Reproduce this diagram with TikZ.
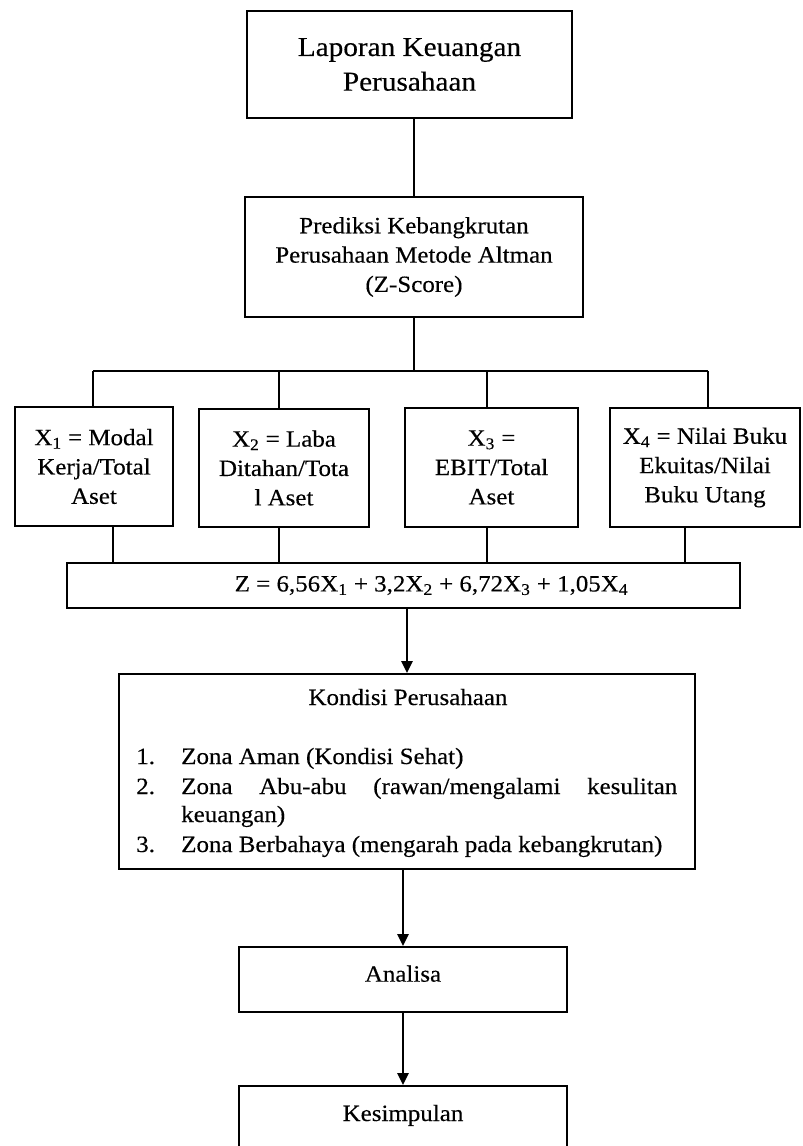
\documentclass[tikz,border=0pt]{standalone}
\usepackage{fontspec}
\setmainfont{Liberation Serif}[FakeStretch=1.07,FakeBold=0.3]
\usetikzlibrary{arrows.meta}
\tikzset{
  txt/.style={font=\fontsize{17.5}{22}\selectfont, inner sep=0pt},
  boxnode/.style={draw, line width=1.5pt, align=center, inner sep=2pt,
    font=\fontsize{17.5}{22}\selectfont},
  conn/.style={line width=1.3pt},
  arr/.style={line width=1.3pt, -{Triangle[length=9pt,width=8.5pt]}}
}
\begin{document}
\begin{tikzpicture}[x=0.75pt,y=-0.75pt]
\useasboundingbox (0,0) rectangle (803,1146);
\clip (0,0) rectangle (803,1146);
\fill[white] (0,0) rectangle (803,1146);

\node[boxnode, minimum width=243.75pt, minimum height=80.25pt,
  font=\fontsize{20.5}{26}\selectfont] (lap) at (409.5,64.5)
  {Laporan Keuangan\\Perusahaan};
\node[boxnode, minimum width=253.5pt, minimum height=90pt] (pred) at (414,257)
  {Prediksi Kebangkrutan\\Perusahaan Metode Altman\\(Z-Score)};

\node[boxnode, minimum width=118.5pt, minimum height=89.25pt] (x1) at (94,466.5)
  {X\textsubscript{1} = Modal\\Kerja/Total\\Aset};
\node[boxnode, minimum width=127.5pt, minimum height=88.5pt] (x2) at (284,468)
  {X\textsubscript{2} = Laba\\Ditahan/Tota\\l Aset};
\node[boxnode, minimum width=129.75pt, minimum height=89.25pt] (x3) at (491.5,467.5)
  {X\textsubscript{3} =\\EBIT/Total\\Aset};
\node[boxnode, minimum width=143pt, minimum height=89.25pt] (x4) at (705,467.5)
  {X\textsubscript{4} = Nilai Buku\\Ekuitas/Nilai\\Buku Utang};

\node[boxnode, minimum width=504.75pt, minimum height=33.75pt] (z) at (403.5,585.5)
  {\hspace*{42pt}Z = 6,56X\textsubscript{1} + 3,2X\textsubscript{2} + 6,72X\textsubscript{3} + 1,05X\textsubscript{4}};

\node[boxnode, minimum width=432pt, minimum height=146.25pt] (kond) at (407,771.5) {};
\node[txt, anchor=base] (kt) at (408,705) {Kondisi Perusahaan};
\node[txt, anchor=base west] (n1) at (136,764) {1.};
\node[txt, anchor=base west] (i1) at (181,764) {Zona Aman (Kondisi Sehat)};
\node[txt, anchor=base west] (n2) at (136,794) {2.};
\node[txt, anchor=base west] (i2) at (181,794)
  {\makebox[372pt][s]{Zona\hfil\ Abu-abu\hfil\ (rawan/mengalami\hfil\ kesulitan}};
\node[txt, anchor=base west] (i2b) at (181,822) {keuangan)};
\node[txt, anchor=base west] (n3) at (136,852) {3.};
\node[txt, anchor=base west] (i3) at (181,852) {Zona Berbahaya (mengarah pada kebangkrutan)};

\node[boxnode, minimum width=246pt, anchor=north, inner ysep=4pt,
  text height=22pt, text depth=18.75pt] (anal) at (403,946) {Analisa};
\node[boxnode, minimum width=246pt, anchor=north, inner ysep=4pt,
  text height=22.25pt, text depth=50pt] (kes) at (403,1085) {Kesimpulan};

% connectors
\coordinate (t1) at (93,371);
\coordinate (t2) at (279,371);
\coordinate (t3) at (487,371);
\coordinate (t4) at (708,371);
\coordinate (b1) at (113,0);
\coordinate (b2) at (279,0);
\coordinate (b3) at (487,0);
\coordinate (b4) at (685,0);

\draw[conn] (pred.north |- lap.south) -- (pred.north);
\draw[conn] (pred.south) -- (pred.south |- t1);
\draw[conn] (t1) -- (t4);
\draw[conn] (t1) -- (t1 |- x1.north);
\draw[conn] (t2) -- (t2 |- x2.north);
\draw[conn] (t3) -- (t3 |- x3.north);
\draw[conn] (t4) -- (t4 |- x4.north);
\draw[conn] (b1 |- x1.south) -- (b1 |- z.north);
\draw[conn] (b2 |- x2.south) -- (b2 |- z.north);
\draw[conn] (b3 |- x3.south) -- (b3 |- z.north);
\draw[conn] (b4 |- x4.south) -- (b4 |- z.north);

\draw[arr] (kond.north |- z.south) -- (kond.north);
\draw[arr] (anal.north |- kond.south) -- (anal.north);
\draw[arr] (anal.south) -- (kes.north);
\end{tikzpicture}
\end{document}
